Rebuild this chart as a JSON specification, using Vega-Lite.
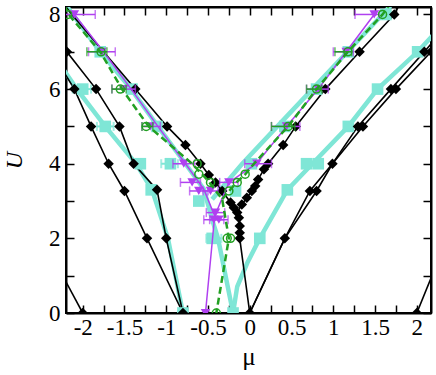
{
"$schema":"https://vega.github.io/schema/vega-lite/v6.json",
"width":365,"height":306,
"autosize":{"type":"none"},
"padding":{"left":66,"top":7,"right":5,"bottom":62},
"background":"white",
"config":{"view":{"stroke":"black","strokeWidth":2},"font":"Liberation Serif",
 "axis":{"grid":false,"domainColor":"black","domainWidth":2,"tickColor":"black","tickWidth":1.5,"tickSize":-8,"labelColor":"black","titleFontWeight":"normal","titleColor":"black","labelOverlap":false,"labelFlush":false}},
"datasets":{
"L":[
{"s":"c","id":"c1","o":1,"mu":-2.3,"U":6.75},{"s":"c","id":"c1","o":2,"mu":-2.07,"U":6},{"s":"c","id":"c1","o":3,"mu":-1.73,"U":5},{"s":"c","id":"c1","o":4,"mu":-1.36,"U":4},{"s":"c","id":"c1","o":5,"mu":-1.17,"U":3.3},{"s":"c","id":"c1","o":6,"mu":-0.98,"U":2},{"s":"c","id":"c1","o":7,"mu":-0.8,"U":0},
{"s":"c","id":"c2","o":1,"mu":-2.25,"U":8.4},{"s":"c","id":"c2","o":2,"mu":-1.79,"U":7},{"s":"c","id":"c2","o":3,"mu":-1.42,"U":6},{"s":"c","id":"c2","o":4,"mu":-1.1,"U":5},{"s":"c","id":"c2","o":5,"mu":-0.77,"U":4},{"s":"c","id":"c2","o":6,"mu":-0.55,"U":3.32},{"s":"c","id":"c2","o":7,"mu":-0.45,"U":2.5},{"s":"c","id":"c2","o":8,"mu":-0.38,"U":2},{"s":"c","id":"c2","o":9,"mu":-0.2,"U":0},
{"s":"c","id":"c3","o":1,"mu":-0.2,"U":0},{"s":"c","id":"c3","o":2,"mu":-0.15,"U":0.71},{"s":"c","id":"c3","o":3,"mu":-0.03,"U":1.34},{"s":"c","id":"c3","o":4,"mu":0.12,"U":2},{"s":"c","id":"c3","o":5,"mu":0.45,"U":3.3},{"s":"c","id":"c3","o":6,"mu":0.75,"U":4},{"s":"c","id":"c3","o":7,"mu":1.18,"U":5},{"s":"c","id":"c3","o":8,"mu":1.53,"U":6},{"s":"c","id":"c3","o":9,"mu":2.01,"U":7},{"s":"c","id":"c3","o":10,"mu":2.3,"U":7.7},
{"s":"c","id":"c4","o":1,"mu":-0.45,"U":3.05},{"s":"c","id":"c4","o":2,"mu":-0.09,"U":4},{"s":"c","id":"c4","o":3,"mu":0.33,"U":5},{"s":"c","id":"c4","o":4,"mu":0.75,"U":6},{"s":"c","id":"c4","o":5,"mu":1.17,"U":7},{"s":"c","id":"c4","o":6,"mu":1.59,"U":8},{"s":"c","id":"c4","o":7,"mu":1.69,"U":8.25},
{"s":"b","id":"b1","o":1,"mu":-2.23,"U":7.35},{"s":"b","id":"b1","o":2,"mu":-2.19,"U":7},{"s":"b","id":"b1","o":3,"mu":-1.84,"U":6},{"s":"b","id":"b1","o":4,"mu":-1.56,"U":5},{"s":"b","id":"b1","o":5,"mu":-1.39,"U":4},{"s":"b","id":"b1","o":6,"mu":-1.11,"U":3.3},{"s":"b","id":"b1","o":7,"mu":-1.0,"U":2},{"s":"b","id":"b1","o":8,"mu":-0.8,"U":0},
{"s":"b","id":"b2","o":1,"mu":-2.25,"U":6.55},{"s":"b","id":"b2","o":2,"mu":-2.1,"U":6},{"s":"b","id":"b2","o":3,"mu":-1.9,"U":5},{"s":"b","id":"b2","o":4,"mu":-1.69,"U":4},{"s":"b","id":"b2","o":5,"mu":-1.5,"U":3.27},{"s":"b","id":"b2","o":6,"mu":-1.23,"U":2},{"s":"b","id":"b2","o":7,"mu":-0.8,"U":0},
{"s":"b","id":"b3","o":1,"mu":-2.3,"U":1.25},{"s":"b","id":"b3","o":2,"mu":-2.0,"U":0},
{"s":"b","id":"b4","o":1,"mu":2.0,"U":0},{"s":"b","id":"b4","o":2,"mu":2.3,"U":1.65},
{"s":"b","id":"b5","o":1,"mu":0,"U":0},{"s":"b","id":"b5","o":2,"mu":0.42,"U":2},{"s":"b","id":"b5","o":3,"mu":0.72,"U":3.27},{"s":"b","id":"b5","o":4,"mu":0.99,"U":4},{"s":"b","id":"b5","o":5,"mu":1.295,"U":5},{"s":"b","id":"b5","o":6,"mu":1.69,"U":6},{"s":"b","id":"b5","o":7,"mu":2.09,"U":7},{"s":"b","id":"b5","o":8,"mu":2.3,"U":7.55},
{"s":"b","id":"b6","o":1,"mu":0,"U":0},{"s":"b","id":"b6","o":2,"mu":0.42,"U":2},{"s":"b","id":"b6","o":3,"mu":0.8,"U":3.27},{"s":"b","id":"b6","o":4,"mu":0.99,"U":4},{"s":"b","id":"b6","o":5,"mu":1.355,"U":5},{"s":"b","id":"b6","o":6,"mu":1.75,"U":6},{"s":"b","id":"b6","o":7,"mu":2.17,"U":7},{"s":"b","id":"b6","o":8,"mu":2.3,"U":7.4},
{"s":"b","id":"b7","o":1,"mu":-2.25,"U":8.35},{"s":"b","id":"b7","o":2,"mu":-2.13,"U":8},{"s":"b","id":"b7","o":3,"mu":-1.75,"U":7},{"s":"b","id":"b7","o":4,"mu":-1.37,"U":6},{"s":"b","id":"b7","o":5,"mu":-0.99,"U":5},{"s":"b","id":"b7","o":6,"mu":-0.77,"U":4.5},{"s":"b","id":"b7","o":7,"mu":-0.59,"U":4},{"s":"b","id":"b7","o":8,"mu":-0.49,"U":3.7},{"s":"b","id":"b7","o":9,"mu":-0.41,"U":3.5},{"s":"b","id":"b7","o":10,"mu":-0.33,"U":3.27},{"s":"b","id":"b7","o":11,"mu":-0.23,"U":2.96},{"s":"b","id":"b7","o":12,"mu":-0.19,"U":2.82},{"s":"b","id":"b7","o":13,"mu":-0.15,"U":2.69},{"s":"b","id":"b7","o":14,"mu":-0.13,"U":2.55},{"s":"b","id":"b7","o":15,"mu":-0.12,"U":2.33},{"s":"b","id":"b7","o":16,"mu":-0.12,"U":2.15},{"s":"b","id":"b7","o":17,"mu":-0.12,"U":2.0},{"s":"b","id":"b7","o":18,"mu":0,"U":0},
{"s":"b","id":"b8","o":1,"mu":-0.15,"U":2.69},{"s":"b","id":"b8","o":2,"mu":-0.095,"U":2.91},{"s":"b","id":"b8","o":3,"mu":-0.035,"U":3.09},{"s":"b","id":"b8","o":4,"mu":0.025,"U":3.27},{"s":"b","id":"b8","o":5,"mu":0.065,"U":3.4},{"s":"b","id":"b8","o":6,"mu":0.1,"U":3.58},{"s":"b","id":"b8","o":7,"mu":0.17,"U":3.85},{"s":"b","id":"b8","o":8,"mu":0.22,"U":4},{"s":"b","id":"b8","o":9,"mu":0.4,"U":4.5},{"s":"b","id":"b8","o":10,"mu":0.55,"U":5},{"s":"b","id":"b8","o":11,"mu":0.905,"U":6},{"s":"b","id":"b8","o":12,"mu":1.315,"U":7},{"s":"b","id":"b8","o":13,"mu":1.73,"U":8},{"s":"b","id":"b8","o":14,"mu":1.8,"U":8.3},
{"s":"m","id":"m1","o":1,"mu":-2.1,"U":8},{"s":"m","id":"m1","o":2,"mu":-1.75,"U":7},{"s":"m","id":"m1","o":3,"mu":-1.42,"U":6},{"s":"m","id":"m1","o":4,"mu":-1.1,"U":5},{"s":"m","id":"m1","o":5,"mu":-0.77,"U":4},{"s":"m","id":"m1","o":6,"mu":-0.55,"U":3.32},{"s":"m","id":"m1","o":7,"mu":-0.42,"U":2.6},{"s":"m","id":"m1","o":8,"mu":-0.53,"U":0},
{"s":"m","id":"m2","o":1,"mu":-0.42,"U":2.6},{"s":"m","id":"m2","o":2,"mu":-0.25,"U":3.5},{"s":"m","id":"m2","o":3,"mu":0.08,"U":4},{"s":"m","id":"m2","o":4,"mu":0.44,"U":5},{"s":"m","id":"m2","o":5,"mu":0.82,"U":6},{"s":"m","id":"m2","o":6,"mu":1.155,"U":7},{"s":"m","id":"m2","o":7,"mu":1.49,"U":8},
{"s":"g","id":"g1","o":1,"mu":-2.22,"U":8.25},{"s":"g","id":"g1","o":2,"mu":-2.17,"U":8},{"s":"g","id":"g1","o":3,"mu":-1.79,"U":7},{"s":"g","id":"g1","o":4,"mu":-1.53,"U":6},{"s":"g","id":"g1","o":5,"mu":-1.21,"U":5},{"s":"g","id":"g1","o":6,"mu":-0.69,"U":4},{"s":"g","id":"g1","o":7,"mu":-0.5,"U":3.55},{"s":"g","id":"g1","o":8,"mu":-0.33,"U":3.05},{"s":"g","id":"g1","o":9,"mu":-0.25,"U":2.0},{"s":"g","id":"g1","o":10,"mu":-0.4,"U":0},
{"s":"g","id":"g2","o":1,"mu":-0.33,"U":3.05},{"s":"g","id":"g2","o":2,"mu":-0.16,"U":3.5},{"s":"g","id":"g2","o":3,"mu":-0.06,"U":3.7},{"s":"g","id":"g2","o":4,"mu":0.05,"U":4},{"s":"g","id":"g2","o":5,"mu":0.46,"U":5},{"s":"g","id":"g2","o":6,"mu":0.8,"U":6},{"s":"g","id":"g2","o":7,"mu":1.175,"U":7},{"s":"g","id":"g2","o":8,"mu":1.59,"U":8},{"s":"g","id":"g2","o":9,"mu":1.67,"U":8.25}
],
"P":[
{"s":"c","mu":-2.0,"U":6,"lo":-2.12,"hi":-1.9},{"s":"c","mu":-1.73,"U":5,"lo":-1.83,"hi":-1.63},{"s":"c","mu":-1.31,"U":4},{"s":"c","mu":-1.18,"U":3.3},{"s":"c","mu":-0.8,"U":0},{"s":"c","mu":-1.79,"U":7},{"s":"c","mu":-1.41,"U":6},{"s":"c","mu":-1.11,"U":5},{"s":"c","mu":-0.95,"U":4,"lo":-1.06,"hi":-0.86},{"s":"c","mu":-0.61,"U":3.0},{"s":"c","mu":-0.45,"U":2,"lo":-0.52,"hi":-0.34},{"s":"c","mu":-0.2,"U":0},{"s":"c","mu":0.12,"U":2},{"s":"c","mu":0.45,"U":3.3},{"s":"c","mu":0.68,"U":4},{"s":"c","mu":0.82,"U":4},{"s":"c","mu":1.18,"U":5},{"s":"c","mu":1.53,"U":6},{"s":"c","mu":2.01,"U":7},{"s":"c","mu":-0.17,"U":3.27},{"s":"c","mu":0.02,"U":4},{"s":"c","mu":0.42,"U":5},{"s":"c","mu":0.8,"U":6},{"s":"c","mu":1.18,"U":7},{"s":"c","mu":1.63,"U":8},
{"s":"b","mu":-2.19,"U":7},{"s":"b","mu":-1.84,"U":6},{"s":"b","mu":-1.56,"U":5},{"s":"b","mu":-1.39,"U":4},{"s":"b","mu":-1.11,"U":3.3},{"s":"b","mu":-1.0,"U":2},{"s":"b","mu":-0.8,"U":0},
{"s":"b","mu":-2.1,"U":6},{"s":"b","mu":-1.9,"U":5},{"s":"b","mu":-1.69,"U":4},{"s":"b","mu":-1.5,"U":3.27},{"s":"b","mu":-1.23,"U":2},{"s":"b","mu":-2.0,"U":0},{"s":"b","mu":2.0,"U":0},
{"s":"b","mu":0,"U":0},{"s":"b","mu":0.42,"U":2},{"s":"b","mu":0.72,"U":3.27},{"s":"b","mu":0.99,"U":4},{"s":"b","mu":1.295,"U":5},{"s":"b","mu":1.69,"U":6},{"s":"b","mu":2.09,"U":7},
{"s":"b","mu":0.8,"U":3.27},{"s":"b","mu":1.355,"U":5},{"s":"b","mu":1.75,"U":6},{"s":"b","mu":2.17,"U":7},
{"s":"b","mu":-1.37,"U":6},{"s":"b","mu":-0.99,"U":5},{"s":"b","mu":-0.77,"U":4.5},{"s":"b","mu":-0.59,"U":4},{"s":"b","mu":-0.49,"U":3.7},{"s":"b","mu":-0.41,"U":3.5},{"s":"b","mu":-0.33,"U":3.27},{"s":"b","mu":-0.23,"U":2.96},{"s":"b","mu":-0.19,"U":2.82},{"s":"b","mu":-0.15,"U":2.69},{"s":"b","mu":-0.13,"U":2.55},{"s":"b","mu":-0.12,"U":2.33},{"s":"b","mu":-0.12,"U":2.15},{"s":"b","mu":-0.12,"U":2.0},
{"s":"b","mu":-0.095,"U":2.91},{"s":"b","mu":-0.035,"U":3.09},{"s":"b","mu":0.025,"U":3.27},{"s":"b","mu":0.065,"U":3.4},{"s":"b","mu":0.1,"U":3.58},{"s":"b","mu":0.17,"U":3.85},{"s":"b","mu":0.22,"U":4},{"s":"b","mu":0.4,"U":4.5},{"s":"b","mu":0.55,"U":5},{"s":"b","mu":0.905,"U":6},{"s":"b","mu":1.315,"U":7},{"s":"b","mu":1.73,"U":8},
{"s":"m","mu":-2.1,"U":8,"lo":-2.3,"hi":-1.85},{"s":"m","mu":-1.77,"U":7,"lo":-1.93,"hi":-1.61},{"s":"m","mu":-1.51,"U":6,"lo":-1.65,"hi":-1.37},{"s":"m","mu":-1.19,"U":5,"lo":-1.29,"hi":-1.07},{"s":"m","mu":-0.79,"U":4,"lo":-0.92,"hi":-0.66},{"s":"m","mu":-0.69,"U":3.5,"lo":-0.83,"hi":-0.59},{"s":"m","mu":-0.61,"U":3.27,"lo":-0.72,"hi":-0.5},{"s":"m","mu":-0.47,"U":3.27,"lo":-0.56,"hi":-0.38},{"s":"m","mu":-0.25,"U":3.5,"lo":-0.36,"hi":-0.14},{"s":"m","mu":-0.41,"U":2.69,"lo":-0.52,"hi":-0.3},{"s":"m","mu":-0.43,"U":2.5,"lo":-0.55,"hi":-0.31},{"s":"m","mu":-0.37,"U":2.5,"lo":-0.48,"hi":-0.26},{"s":"m","mu":-0.53,"U":0},{"s":"m","mu":0.085,"U":4,"lo":-0.06,"hi":0.26},{"s":"m","mu":0.44,"U":5,"lo":0.26,"hi":0.6},{"s":"m","mu":0.82,"U":6,"lo":0.68,"hi":0.94},{"s":"m","mu":1.155,"U":7,"lo":1.0,"hi":1.24},{"s":"m","mu":1.49,"U":8,"lo":1.26,"hi":1.55},
{"s":"g","mu":-2.18,"U":8},{"s":"g","mu":-1.78,"U":7,"lo":-1.95,"hi":-1.71},{"s":"g","mu":-1.55,"U":6,"lo":-1.65,"hi":-1.48},{"s":"g","mu":-1.24,"U":5,"lo":-1.29,"hi":-1.16},{"s":"g","mu":-0.63,"U":4},{"s":"g","mu":-0.61,"U":3.72},{"s":"g","mu":-0.47,"U":3.5},{"s":"g","mu":-0.25,"U":3.27},{"s":"g","mu":-0.15,"U":3.5},{"s":"g","mu":-0.055,"U":3.72},{"s":"g","mu":-0.27,"U":2},{"s":"g","mu":-0.23,"U":2},{"s":"g","mu":-0.4,"U":0},{"s":"g","mu":0.46,"U":5,"lo":0.26,"hi":0.54},{"s":"g","mu":0.8,"U":6,"lo":0.68,"hi":0.86},{"s":"g","mu":1.175,"U":7,"lo":1.02,"hi":1.22},{"s":"g","mu":1.59,"U":8}
]},
"layer":[
{"data":{"name":"L"},"transform":[{"filter":"datum.s == 'c'"}],
 "mark":{"type":"line","color":"#7FE6D6","strokeWidth":4.5,"clip":true},
 "encoding":{"x":{"field":"mu","type":"quantitative","scale":{"domain":[-2.2,2.17],"nice":false,"zero":false},
   "axis":{"orient":"bottom","values":[-2,-1.75,-1.5,-1.25,-1,-0.75,-0.5,-0.25,0,0.25,0.5,0.75,1,1.25,1.5,1.75,2],"labelExpr":"datum.value % 0.5 == 0 ? '' + datum.value : ''","labelPadding":11,"labelFont":"Liberation Serif","labelFontSize":23,"title":"μ","titleFont":"Liberation Serif","titleFontSize":25,"titleBaseline":"alphabetic","titleY":51}},
  "y":{"field":"U","type":"quantitative","scale":{"domain":[0,8.2],"nice":false,"zero":false},
   "axis":{"orient":"left","values":[0,1,2,3,4,5,6,7,8],"labelExpr":"datum.value % 2 == 0 ? '' + datum.value : ''","labelPadding":14,"labelFont":"Liberation Serif","labelFontSize":23,"title":"U","titleFont":"Liberation Serif","titleFontSize":24,"titleFontStyle":"italic","titleBaseline":"alphabetic","titleX":-45}},
  "detail":{"field":"id"},"order":{"field":"o","type":"quantitative"}}},
{"data":{"name":"L"},"transform":[{"filter":"datum.s == 'b'"}],
 "mark":{"type":"line","color":"black","strokeWidth":1.6,"clip":true},
 "encoding":{"x":{"field":"mu","type":"quantitative","axis":{"orient":"top","values":[-2,-1.75,-1.5,-1.25,-1,-0.75,-0.5,-0.25,0,0.25,0.5,0.75,1,1.25,1.5,1.75,2],"labels":false,"title":null}},
  "y":{"field":"U","type":"quantitative","axis":{"orient":"right","values":[0,1,2,3,4,5,6,7,8],"labels":false,"title":null}},
  "detail":{"field":"id"},"order":{"field":"o","type":"quantitative"}}},
{"data":{"name":"P"},"transform":[{"filter":"datum.s == 'c' && isValid(datum.lo)"}],
 "mark":{"type":"rule","color":"#7FE6D6","strokeWidth":2,"clip":true},
 "encoding":{"x":{"field":"lo","type":"quantitative","axis":null},"x2":{"field":"hi"},"y":{"field":"U","type":"quantitative","axis":null}}},
{"data":{"name":"P"},"transform":[{"filter":"datum.s == 'c' && isValid(datum.lo)"},{"fold":["lo","hi"],"as":["k","v"]}],
 "mark":{"type":"tick","orient":"vertical","color":"#7FE6D6","size":9,"thickness":2,"clip":true},
 "encoding":{"x":{"field":"v","type":"quantitative","axis":null},"y":{"field":"U","type":"quantitative","axis":null}}},
{"data":{"name":"P"},"transform":[{"filter":"datum.s == 'c'"}],
 "mark":{"type":"point","shape":"square","filled":true,"color":"#7FE6D6","opacity":1,"size":135,"clip":true},
 "encoding":{"x":{"field":"mu","type":"quantitative","axis":null},"y":{"field":"U","type":"quantitative","axis":null}}},
{"data":{"name":"P"},"transform":[{"filter":"datum.s == 'b'"}],
 "mark":{"type":"point","shape":"diamond","filled":true,"color":"black","opacity":1,"size":110,"clip":true},
 "encoding":{"x":{"field":"mu","type":"quantitative","axis":null},"y":{"field":"U","type":"quantitative","axis":null}}},
{"data":{"name":"L"},"transform":[{"filter":"datum.s == 'm'"}],
 "mark":{"type":"line","color":"#B040F0","strokeWidth":1.5,"clip":true},
 "encoding":{"x":{"field":"mu","type":"quantitative","axis":null},"y":{"field":"U","type":"quantitative","axis":null},"detail":{"field":"id"},"order":{"field":"o","type":"quantitative"}}},
{"data":{"name":"P"},"transform":[{"filter":"datum.s == 'm' && isValid(datum.lo)"}],
 "mark":{"type":"rule","color":"#B040F0","strokeWidth":1.5,"clip":true},
 "encoding":{"x":{"field":"lo","type":"quantitative","axis":null},"x2":{"field":"hi"},"y":{"field":"U","type":"quantitative","axis":null}}},
{"data":{"name":"P"},"transform":[{"filter":"datum.s == 'm' && isValid(datum.lo)"},{"fold":["lo","hi"],"as":["k","v"]}],
 "mark":{"type":"tick","orient":"vertical","color":"#B040F0","size":9,"thickness":1.5,"clip":true},
 "encoding":{"x":{"field":"v","type":"quantitative","axis":null},"y":{"field":"U","type":"quantitative","axis":null}}},
{"data":{"name":"P"},"transform":[{"filter":"datum.s == 'm'"}],
 "mark":{"type":"point","shape":"triangle-down","filled":true,"color":"#B040F0","opacity":1,"size":90,"clip":true},
 "encoding":{"x":{"field":"mu","type":"quantitative","axis":null},"y":{"field":"U","type":"quantitative","axis":null}}},
{"data":{"name":"L"},"transform":[{"filter":"datum.s == 'g'"}],
 "mark":{"type":"line","color":"#22A022","strokeWidth":2.5,"strokeDash":[7,4],"clip":true},
 "encoding":{"x":{"field":"mu","type":"quantitative","axis":null},"y":{"field":"U","type":"quantitative","axis":null},"detail":{"field":"id"},"order":{"field":"o","type":"quantitative"}}},
{"data":{"name":"P"},"transform":[{"filter":"datum.s == 'g' && isValid(datum.lo)"}],
 "mark":{"type":"rule","color":"#22A022","strokeWidth":1.5,"clip":true},
 "encoding":{"x":{"field":"lo","type":"quantitative","axis":null},"x2":{"field":"hi"},"y":{"field":"U","type":"quantitative","axis":null}}},
{"data":{"name":"P"},"transform":[{"filter":"datum.s == 'g' && isValid(datum.lo)"},{"fold":["lo","hi"],"as":["k","v"]}],
 "mark":{"type":"tick","orient":"vertical","color":"#22A022","size":9,"thickness":1.5,"clip":true},
 "encoding":{"x":{"field":"v","type":"quantitative","axis":null},"y":{"field":"U","type":"quantitative","axis":null}}},
{"data":{"name":"P"},"transform":[{"filter":"datum.s == 'g'"}],
 "mark":{"type":"point","shape":"circle","filled":false,"color":"#22A022","strokeWidth":1.5,"opacity":1,"size":64,"clip":true},
 "encoding":{"x":{"field":"mu","type":"quantitative","axis":null},"y":{"field":"U","type":"quantitative","axis":null}}}
],
"resolve":{"axis":{"x":"independent","y":"independent"}}
}
